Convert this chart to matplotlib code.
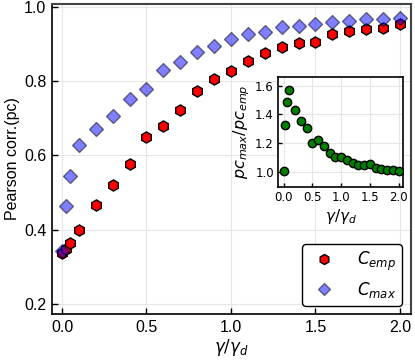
import matplotlib
matplotlib.use("Agg")
import matplotlib.pyplot as plt

gamma = [0.0, 0.025, 0.05, 0.1, 0.2, 0.3, 0.4, 0.5, 0.6, 0.7, 0.8, 0.9, 1.0,
         1.1, 1.2, 1.3, 1.4, 1.5, 1.6, 1.7, 1.8, 1.9, 2.0]
c_emp = [0.337, 0.349, 0.364, 0.398, 0.467, 0.520, 0.578, 0.650, 0.679, 0.723,
         0.774, 0.806, 0.828, 0.855, 0.877, 0.892, 0.904, 0.905, 0.927, 0.934,
         0.941, 0.944, 0.953]
c_max = [0.342, 0.463, 0.545, 0.628, 0.671, 0.705, 0.753, 0.779, 0.829, 0.852,
         0.879, 0.896, 0.915, 0.928, 0.933, 0.945, 0.950, 0.954, 0.959, 0.9625,
         0.967, 0.968, 0.971]
ratio = [1.009, 1.323, 1.488, 1.570, 1.428, 1.351, 1.305, 1.200, 1.223, 1.177,
         1.128, 1.105, 1.105, 1.081, 1.060, 1.049, 1.047, 1.053, 1.030, 1.023,
         1.016, 1.016, 1.009]

main_xticks = [0.0, 0.5, 1.0, 1.5, 2.0]
main_yticks = [0.2, 0.4, 0.6, 0.8, 1.0]
inset_yticks = [1.0, 1.2, 1.4, 1.6]

plt.rcParams['mathtext.fontset'] = 'dejavusans'

fig = plt.figure(figsize=(4.15, 3.63), dpi=100)
ax = fig.add_axes([0.125, 0.135, 0.865, 0.854])

ax.grid(True, color='#e6e6e6', linewidth=0.8, zorder=0)
ax.plot(gamma, c_emp, linestyle='none', marker='h', markersize=8,
        markerfacecolor='red', markeredgecolor='black', markeredgewidth=1.0,
        label=r'$C_{emp}$', zorder=3)
ax.plot(gamma, c_max, linestyle='none', marker='D', markersize=6.8,
        markerfacecolor='blue', markeredgecolor='black', markeredgewidth=1.0,
        alpha=0.5, label=r'$C_{max}$', zorder=4)

ax.set_xlim(-0.06, 2.065)
ax.set_ylim(0.173, 1.008)
ax.set_xticks(main_xticks)
ax.set_yticks(main_yticks)
ax.set_xticklabels(['%.1f' % v for v in main_xticks], family='Liberation Sans', fontsize=11.5)
ax.set_yticklabels(['%.1f' % v for v in main_yticks], family='Liberation Sans', fontsize=11.5)
ax.tick_params(direction='in', length=4, width=1, top=False, right=False, pad=4)
ax.set_xlabel(r'$\gamma/\gamma_d$', fontsize=12, labelpad=2)
ax.set_ylabel('Pearson corr.(pc)', family='Liberation Sans', fontsize=11.5, labelpad=3)
for s in ['left', 'bottom']:
    ax.spines[s].set_color('black')
    ax.spines[s].set_linewidth(1.2)
for s in ['top', 'right']:
    ax.spines[s].set_color('#444444')
    ax.spines[s].set_linewidth(1.5)

leg = ax.legend(loc='lower right', bbox_to_anchor=(0.976, 0.026), fontsize=12,
                frameon=True, fancybox=True, edgecolor='black', framealpha=1,
                markerscale=0.9, handletextpad=1.0, borderpad=0.35,
                labelspacing=0.45, handlelength=2.0, borderaxespad=0)
leg.get_frame().set_linewidth(1.0)
leg.get_frame().set_boxstyle('round', pad=0, rounding_size=0.25)

# inset
iax = fig.add_axes([278 / 415, 1 - 187 / 363, 125 / 415, 110 / 363])
iax.grid(True, color='#e6e6e6', linewidth=0.8, zorder=0)
iax.plot(gamma, ratio, linestyle='none', marker='o', markersize=6,
         markerfacecolor='green', markeredgecolor='black', markeredgewidth=1.0,
         zorder=3)
iax.set_xlim(-0.1, 2.075)
iax.set_ylim(0.895, 1.66)
iax.set_xticks(main_xticks)
iax.set_yticks(inset_yticks)
iax.set_xticklabels(['%.1f' % v for v in main_xticks], fontsize=8.5)
iax.set_yticklabels(['%.1f' % v for v in inset_yticks], fontsize=8.5)
iax.tick_params(direction='in', length=3, width=1, pad=3)
iax.set_xlabel(r'$\gamma/\gamma_d$', fontsize=11, labelpad=2)
iax.set_ylabel(r'$pc_{max}/pc_{emp}$', fontsize=11.5, labelpad=2)
for s in iax.spines.values():
    s.set_color('black')
    s.set_linewidth(1.2)

fig.savefig('out.png', dpi=100)
